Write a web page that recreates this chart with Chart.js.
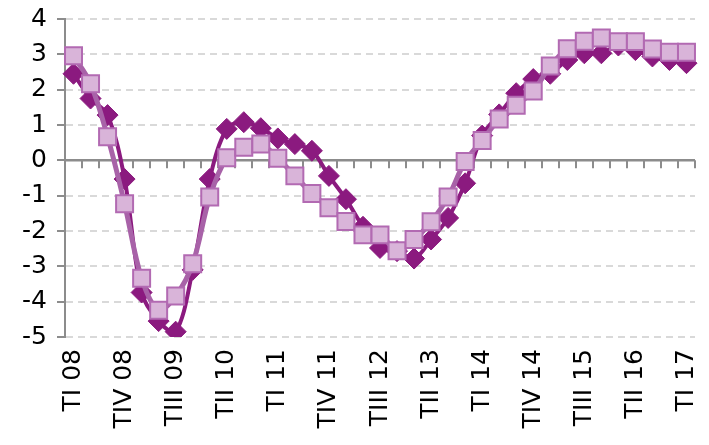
<!DOCTYPE html>
<html>
<head>
<meta charset="utf-8">
<script src="https://cdn.jsdelivr.net/npm/chart.js@4/dist/chart.umd.min.js"></script>
<style>
  html, body { margin: 0; padding: 0; background: #ffffff; }
  #wrap { width: 709px; height: 445px; }
</style>
</head>
<body>
<div id="wrap"><canvas id="c" width="709" height="445"></canvas></div>
<script>
const categories = [
  'TI 08','TII 08','TIII 08','TIV 08',
  'TI 09','TII 09','TIII 09','TIV 09',
  'TI 10','TII 10','TIII 10','TIV 10',
  'TI 11','TII 11','TIII 11','TIV 11',
  'TI 12','TII 12','TIII 12','TIV 12',
  'TI 13','TII 13','TIII 13','TIV 13',
  'TI 14','TII 14','TIII 14','TIV 14',
  'TI 15','TII 15','TIII 15','TIV 15',
  'TI 16','TII 16','TIII 16','TIV 16',
  'TI 17'
];
// dark purple diamonds
const seriesDiamond = [
  2.45, 1.75, 1.28, -0.53, -3.74, -4.55, -4.85, -3.10,
  -0.53, 0.89, 1.08, 0.91, 0.62, 0.46, 0.27, -0.44,
  -1.10, -1.88, -2.48, -2.57, -2.78, -2.24, -1.63, -0.65,
  0.70, 1.30, 1.90, 2.30, 2.45, 2.84, 3.03, 3.03,
  3.25, 3.12, 2.94, 2.84, 2.75
];
// light pink squares
const seriesSquare = [
  2.96, 2.17, 0.67, -1.23, -3.34, -4.24, -3.84, -2.93,
  -1.04, 0.07, 0.37, 0.46, 0.06, -0.44, -0.94, -1.34,
  -1.73, -2.11, -2.11, -2.56, -2.24, -1.74, -1.04, -0.03,
  0.56, 1.17, 1.56, 1.96, 2.67, 3.16, 3.37, 3.46,
  3.36, 3.36, 3.15, 3.06, 3.06
];
const yMin = -5;
const yMax = 4;
const yStep = 1;
const labelEvery = 3;

const AXIS_GRAY = '#8c8c8c';
const FONT = 'DejaVu Sans';

const zeroAxisPlugin = {
  id: 'zeroAxis',
  beforeDatasetsDraw(chart) {
    const {ctx, chartArea, scales} = chart;
    const xs = scales.x, ys = scales.y;
    const y0 = ys.getPixelForValue(0);
    const half = (xs.getPixelForValue(1) - xs.getPixelForValue(0)) / 2;
    ctx.save();
    ctx.strokeStyle = AXIS_GRAY;
    ctx.lineWidth = 2.5;
    ctx.beginPath();
    ctx.moveTo(chartArea.left, y0);
    ctx.lineTo(chartArea.right, y0);
    ctx.stroke();
    ctx.lineWidth = 2;
    ctx.beginPath();
    for (let i = 0; i <= categories.length; i++) {
      const px = (i < categories.length ? xs.getPixelForValue(i) - half : xs.getPixelForValue(categories.length - 1) + half);
      ctx.moveTo(Math.round(px), y0);
      ctx.lineTo(Math.round(px), y0 + 8);
    }
    ctx.stroke();
    ctx.restore();
  }
};

new Chart(document.getElementById('c'), {
  type: 'line',
  data: {
    labels: categories,
    datasets: [
      {
        data: seriesDiamond,
        order: 1,
        borderColor: '#8b1a7f',
        borderWidth: 4,
        backgroundColor: '#8b1a7f',
        pointStyle: 'rectRot',
        pointRadius: 10.5,
        pointBorderWidth: 1,
        pointBorderColor: '#8b1a7f',
        pointBackgroundColor: '#8b1a7f',
        tension: 0.35,
        fill: false
      },
      {
        data: seriesSquare,
        order: 0,
        borderColor: '#a862a8',
        borderWidth: 5,
        backgroundColor: '#d9b4d9',
        pointStyle: 'rect',
        pointRadius: 12,
        pointBorderWidth: 2,
        pointBorderColor: '#b26ab2',
        pointBackgroundColor: '#d9b4d9',
        tension: 0.35,
        fill: false
      }
    ]
  },
  options: {
    responsive: false,
    animation: false,
    devicePixelRatio: 1,
    layout: { padding: { top: 19, right: 3, left: 0, bottom: 0 } },
    plugins: { legend: { display: false }, tooltip: { enabled: false } },
    scales: {
      x: {
        type: 'category',
        offset: true,
        grid: { display: false, drawTicks: false },
        border: { display: false },
        afterFit(scale) {
          scale.height = 108;
          scale.paddingLeft = 0;
          scale.paddingRight = 0;
        },
        ticks: {
          autoSkip: false,
          minRotation: 90,
          maxRotation: 90,
          padding: 12,
          color: '#000000',
          font: { family: FONT, size: 25 },
          callback(value, index) {
            return index % labelEvery === 0 ? this.getLabelForValue(value) : '';
          }
        }
      },
      y: {
        min: yMin,
        max: yMax,
        afterFit(scale) {
          scale.width = 65;
          scale.paddingTop = 0;
          scale.paddingBottom = 0;
        },
        border: { display: true, color: AXIS_GRAY, width: 2, dash: [7, 5] },
        grid: {
          color(ctx) { return ctx.tick && ctx.tick.value === 0 ? 'rgba(0,0,0,0)' : '#d9d9d9'; },
          lineWidth: 2,
          drawTicks: true,
          tickLength: 8,
          tickColor: AXIS_GRAY,
          tickWidth: 2
        },
        ticks: {
          stepSize: yStep,
          padding: 10,
          color: '#000000',
          font: { family: FONT, size: 25 },
          callback(value) { return String(value); }
        }
      }
    }
  },
  plugins: [zeroAxisPlugin]
});
</script>
</body>
</html>
